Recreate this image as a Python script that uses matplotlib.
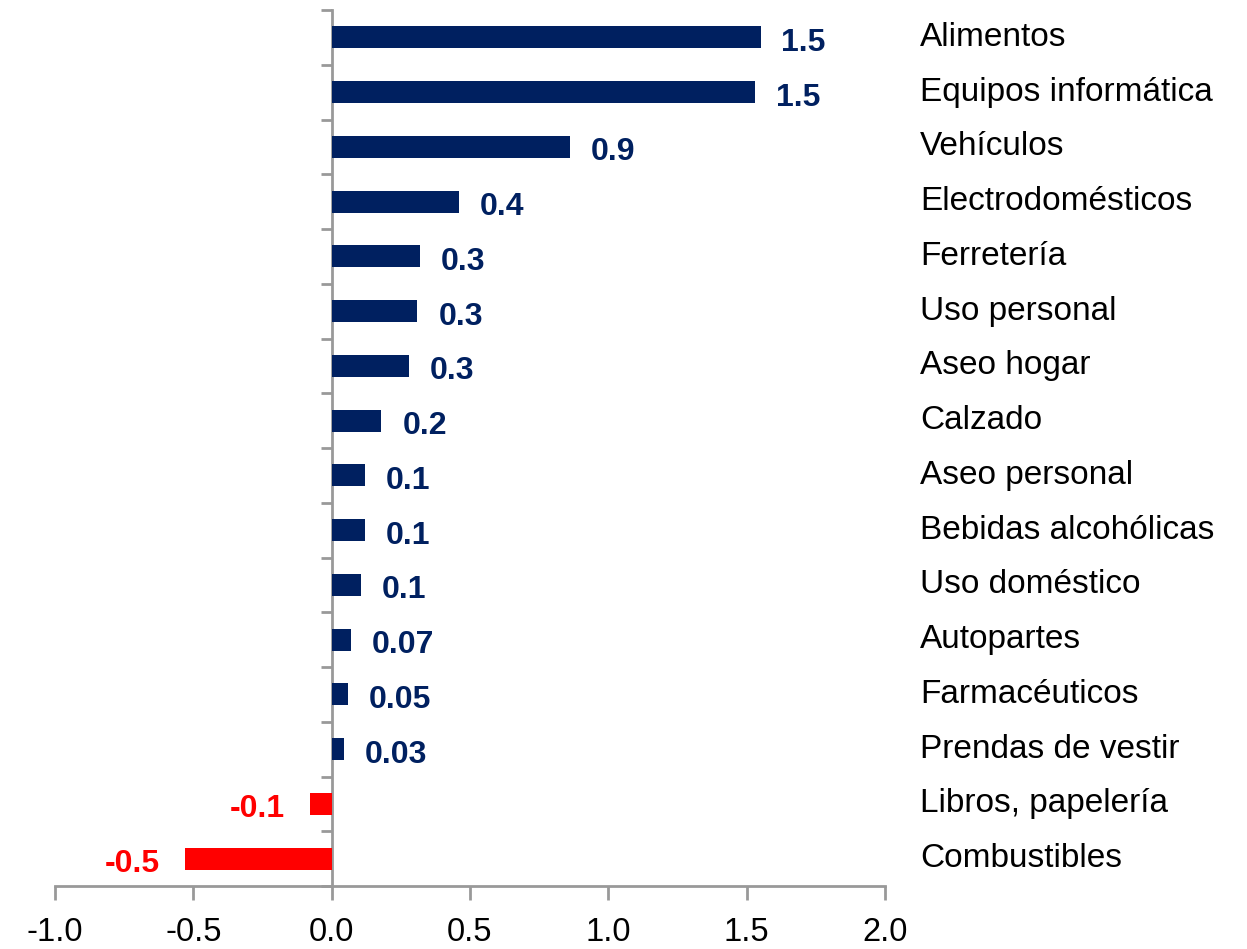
import matplotlib.pyplot as plt
import numpy as np

plt.rcParams['font.family'] = ['Liberation Sans', 'DejaVu Sans']

# --- DATA ---
categories = ["Alimentos", "Equipos informática", "Vehículos", "Electrodomésticos",
              "Ferretería", "Uso personal", "Aseo hogar", "Calzado", "Aseo personal",
              "Bebidas alcohólicas", "Uso doméstico", "Autopartes", "Farmacéuticos",
              "Prendas de vestir", "Libros, papelería", "Combustibles"]
values = [1.55, 1.53, 0.86, 0.46, 0.32, 0.31, 0.28, 0.18, 0.12, 0.12, 0.105,
          0.07, 0.06, 0.045, -0.08, -0.53]
value_labels = ["1.5", "1.5", "0.9", "0.4", "0.3", "0.3", "0.3", "0.2", "0.1", "0.1",
                "0.1", "0.07", "0.05", "0.03", "-0.1", "-0.5"]
x_ticks = [-1.0, -0.5, 0.0, 0.5, 1.0, 1.5, 2.0]

navy = '#002060'
red = '#ff0000'
grey = '#999999'

# --- PLOTTING ---
fig = plt.figure(figsize=(12.47, 9.49), dpi=100)
ax = fig.add_axes([55 / 1247, 63 / 949, 830 / 1247, 876 / 949])

n = len(categories)
y = np.arange(n)
colors = [navy if v >= 0 else red for v in values]
ax.barh(y, values, height=0.4, color=colors, zorder=3)

ax.set_xlim(-1.0, 2.0)
ax.set_ylim(n - 0.5, -0.5)

for yi, v, lab, c in zip(y, values, value_labels, colors):
    if v >= 0:
        ax.annotate(lab, (v, yi), xytext=(15, -4), textcoords='offset points',
                    ha='left', va='center', fontsize=23, fontweight='bold', color=c)
    else:
        ax.annotate(lab, (v, yi), xytext=(-18, -4), textcoords='offset points',
                    ha='right', va='center', fontsize=23, fontweight='bold', color=c)

for yi, cat in zip(y, categories):
    ax.text(2.127, yi, cat, ha='left', va='center', fontsize=24, color='black',
            clip_on=False)

# spines
for s in ['top', 'right']:
    ax.spines[s].set_visible(False)
ax.spines['left'].set_position(('data', 0))
ax.spines['left'].set_color(grey)
ax.spines['left'].set_linewidth(2)
ax.spines['bottom'].set_color(grey)
ax.spines['bottom'].set_linewidth(2)

ax.set_xticks(x_ticks)
ax.set_xticklabels([f"{t:.1f}" for t in x_ticks], fontsize=23.5)
ax.tick_params(axis='x', length=10, width=2, color=grey, pad=12)

ax.set_yticks(np.arange(n + 1) - 0.5)
ax.set_yticklabels([])
ax.tick_params(axis='y', length=8, width=2, color=grey)

plt.savefig('out.png', dpi=100)
